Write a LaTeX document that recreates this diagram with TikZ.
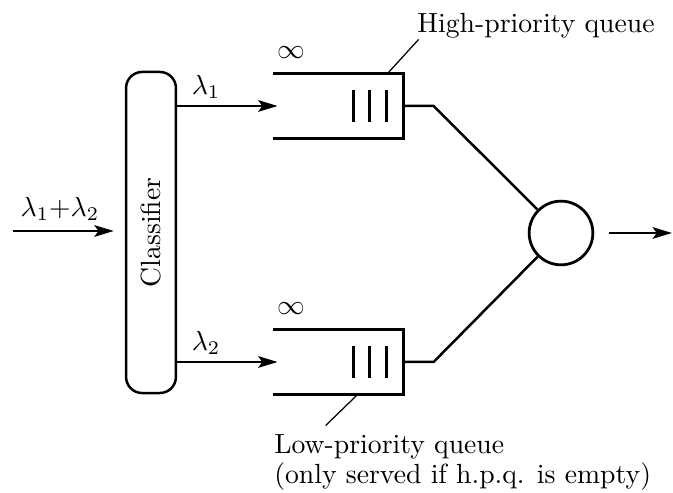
\documentclass[tikz,border=0pt]{standalone}
\usepackage{tikz}
\usetikzlibrary{arrows.meta, positioning, calc}

\tikzset{
  box/.style={draw, rounded corners=5.8pt, line width=0.9pt, minimum width=18pt, minimum height=115.9pt, inner sep=0pt},
  queue/.style={minimum width=46.6pt, minimum height=23.1pt, inner sep=0pt},
  server/.style={draw, circle, line width=1pt, minimum size=23pt, inner sep=0pt},
  flow/.style={line width=0.8pt, -{Stealth[length=7pt,width=4.2pt,inset=1.5pt]}},
  link/.style={line width=0.9pt},
  wall/.style={line width=1.3pt},
  leader/.style={line width=0.45pt},
  note/.style={inner sep=1pt},
}

\begin{document}
\begin{tikzpicture}[x=0.361pt, y=-0.361pt]
  \useasboundingbox (0,0) rectangle (673,493);

  % classifier and the two queues
  \node[box] (cls) at (151,232.5) {\rotatebox{90}{Classifier}};
  \node[queue] (hq) at (338.5,106) {};
  \node[queue] (lq) at (338.5,362) {};
  \node[server] (srv) at (561,233) {};

  \foreach \q in {hq,lq} {
    \draw[wall] (\q.north west) -- (\q.north east) -- (\q.south east) -- (\q.south west);
    \foreach \dx in {17,34,50}
      \draw[wall] ($(\q.east)+(-\dx,-16)$) -- ++(0,32);
    \draw[link] (\q.east) -- ++(30,0) -- (srv);
  }

  \node[above right=2pt and -2.2pt of hq.north west] (hinf) {$\infty$};
  \node[above right=2pt and -2.2pt of lq.north west] (linf) {$\infty$};

  % arrivals
  \coordinate (in) at (13,231);
  \draw[flow, shorten >=4pt] (in) -- (in -| cls.west)
    node[above, pos=0.42] {$\lambda_1{+}\lambda_2$};
  \draw[flow, shorten >=-1.5pt] (cls.east |- hq.west) -- (hq.west)
    node[above=-1pt, pos=0.3] {$\lambda_1$};
  \draw[flow, shorten >=-1.5pt] (cls.east |- lq.west) -- (lq.west)
    node[above=-1pt, pos=0.3] {$\lambda_2$};

  % departures
  \coordinate (out) at (672,233);
  \draw[flow] ($(srv.east)+(15,0)$) -- (out);

  % labels
  \node[note] (hql) at (536,26) {High-priority queue};
  \draw[leader] ($(hq.north east)+(-16,0)$) -- ++(31,-34);
  \node[note, align=left, anchor=north west] (lql) at (271,431)
    {Low-priority queue\\[-1pt](only served if h.p.q. is empty)};
  \draw[leader] ($(lq.south east)+(-46,0)$) -- ++(-32,31);
\end{tikzpicture}
\end{document}
